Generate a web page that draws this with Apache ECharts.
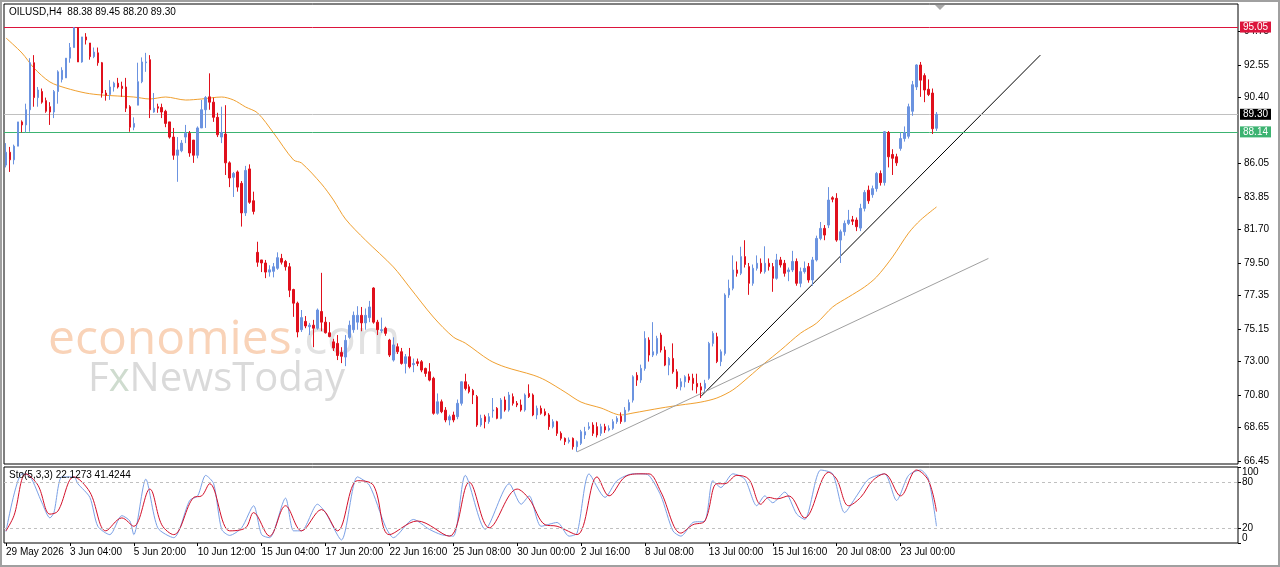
<!DOCTYPE html>
<html>
<head>
<meta charset="utf-8">
<title>OILUSD H4</title>
<script src="https://cdn.jsdelivr.net/npm/echarts@6/dist/echarts.min.js"></script>
<style>
  html, body { margin: 0; padding: 0; background: #fff; }
  #main { width: 1280px; height: 567px; }
</style>
</head>
<body>
<div id="main"></div>
<script>
// time labels, one every 16 bars
var tickLabels = ['29 May 2026', '3 Jun 04:00', '5 Jun 20:00', '10 Jun 12:00', '15 Jun 04:00',
  '17 Jun 20:00', '22 Jun 16:00', '25 Jun 08:00', '30 Jun 00:00', '2 Jul 16:00',
  '8 Jul 08:00', '13 Jul 00:00', '15 Jul 16:00', '20 Jul 08:00', '23 Jul 00:00'];

// H4 candles
var opens = [
  85.95, 86.8, 86.3, 87.2, 88.8, 88.6, 89.6, 92.7, 90.4, 90.8,
  90.2, 89.8, 89.45, 90.8, 91.6, 91.7, 93.0, 93.7, 95.0, 92.75,
  94.4, 94.0, 93.1, 93.35, 92.7, 90.7, 90.6, 91.1, 91.35, 91.15,
  91.1, 89.8, 88.45, 89.9, 91.45, 92.7, 92.9, 89.45, 89.8, 89.75,
  89.5, 88.8, 87.8, 86.6, 86.9, 87.8, 88.05, 87.6, 86.6, 88.4,
  89.6, 90.45, 90.1, 89.1, 87.8, 88.0, 86.1, 85.15, 85.5, 84.75,
  82.8, 85.7, 83.6, 80.2, 79.7, 79.5, 78.9, 78.95, 79.15, 79.8,
  79.6, 79.25, 77.75, 76.85, 75.1, 75.65, 75.3, 75.4, 75.2, 76.3,
  75.6, 74.9, 74.3, 74.2, 73.6, 73.3, 74.6, 75.1, 75.6, 76.05,
  75.55, 75.9, 77.85, 75.6, 75.05, 75.2, 74.42, 73.1, 73.98, 73.65,
  72.88, 73.32, 72.8, 72.99, 72.99, 72.55, 72.33, 71.9, 69.59, 70.35,
  69.8, 69.15, 69.48, 69.37, 70.25, 71.67, 71.34, 71.1, 70.69, 68.82,
  69.37, 69.04, 69.75, 69.92, 69.26, 70.47, 69.81, 70.69, 70.25, 70.14,
  69.81, 70.9, 70.8, 69.48, 69.92, 69.7, 69.48, 68.71, 69.04, 68.27,
  67.94, 67.72, 67.94, 67.39, 67.61, 68.16, 68.6, 68.82, 68.71, 68.27,
  68.71, 68.49, 68.6, 69.04, 69.4, 69.05, 69.8, 70.46, 72.1, 71.78,
  72.55, 74.42, 73.43, 73.54, 74.75, 73.76, 72.77, 73.21, 72.33, 71.34,
  71.67, 72.0, 71.9, 71.56, 71.34, 71.23, 71.9, 74.2, 74.64, 73.0,
  73.54, 77.39, 77.83, 79.04, 78.82, 79.92, 79.26, 78.16, 79.15, 79.48,
  78.93, 79.48, 79.26, 78.49, 79.7, 79.48, 78.93, 79.04, 79.6, 78.16,
  78.93, 79.26, 78.38, 79.7, 81.12, 81.78, 82.0, 83.8, 83.76, 81.01,
  81.56, 82.11, 82.35, 82.33, 81.8, 83.1, 84.3, 84.0, 84.4, 85.4,
  84.8, 88.1, 86.65, 86.5, 87.05, 87.7, 87.85, 89.5, 91.1, 92.55,
  91.85, 90.95, 90.7, 88.38
];
var closes = [
  86.8, 86.3, 87.2, 88.8, 88.6, 89.6, 92.7, 90.4, 90.9, 90.1,
  89.5, 89.45, 90.8, 92.1, 92.2, 93.0, 93.7, 95.0, 92.75, 94.4,
  94.2, 93.1, 93.4, 92.7, 90.7, 90.55, 91.1, 91.35, 91.1, 91.0,
  89.7, 88.45, 88.7, 91.45, 92.75, 92.75, 89.6, 89.7, 89.7, 89.45,
  88.7, 87.8, 86.6, 86.95, 87.4, 88.05, 86.75, 86.6, 88.4, 89.6,
  90.4, 90.1, 89.1, 87.95, 88.1, 86.1, 85.1, 85.4, 84.5, 82.8,
  85.6, 83.5, 82.9, 79.55, 79.5, 78.9, 79.05, 79.25, 79.85, 79.55,
  79.25, 77.7, 76.85, 74.95, 75.9, 75.35, 75.4, 75.2, 76.4, 75.6,
  74.9, 74.65, 73.9, 73.4, 73.35, 74.4, 75.4, 76.05, 76.05, 75.55,
  76.05, 76.6, 75.6, 75.1, 75.1, 74.86, 73.43, 74.1, 73.65, 72.88,
  73.32, 72.66, 72.88, 72.88, 72.44, 72.22, 71.78, 69.59, 70.35, 69.7,
  69.15, 69.37, 69.15, 70.25, 71.67, 71.23, 71.01, 70.8, 68.82, 69.26,
  69.04, 69.37, 69.81, 69.26, 70.47, 69.81, 70.8, 70.25, 70.14, 69.81,
  70.8, 70.69, 69.48, 69.92, 69.59, 69.48, 68.71, 69.04, 68.27, 67.94,
  67.72, 67.83, 67.39, 67.72, 68.38, 68.38, 68.71, 68.27, 68.16, 68.71,
  68.49, 68.6, 69.04, 69.26, 69.05, 69.8, 70.3, 72.0, 71.78, 72.55,
  74.53, 73.43, 73.65, 74.53, 73.76, 72.77, 73.21, 72.33, 71.34, 71.67,
  72.0, 71.78, 71.56, 71.34, 71.12, 71.56, 74.2, 74.86, 73.0, 73.65,
  77.39, 77.83, 79.04, 78.82, 79.92, 79.4, 78.16, 79.15, 79.48, 78.93,
  79.48, 79.26, 78.49, 79.7, 79.37, 78.82, 79.04, 79.6, 78.16, 78.93,
  79.15, 78.38, 79.7, 81.12, 81.78, 81.34, 83.65, 83.7, 81.01, 81.56,
  82.11, 82.33, 82.25, 81.89, 83.1, 84.15, 83.6, 84.4, 85.4, 84.8,
  88.15, 86.5, 86.4, 86.1, 87.7, 88.1, 89.8, 91.25, 92.55, 91.55,
  90.9, 90.6, 88.35, 89.30
];
var lows = [
  85.8, 85.5, 86.0, 87.2, 88.1, 88.1, 88.15, 89.8, 89.8, 90.0,
  89.4, 88.6, 89.05, 90.0, 91.4, 91.7, 92.7, 93.7, 92.75, 92.7,
  93.9, 92.9, 93.0, 92.5, 90.4, 90.2, 90.25, 90.8, 91.0, 90.45,
  89.45, 88.15, 88.25, 89.9, 91.35, 92.1, 89.05, 89.4, 89.4, 89.05,
  88.45, 87.7, 86.3, 84.85, 86.8, 87.4, 86.5, 86.1, 86.4, 88.4,
  88.4, 89.6, 88.8, 87.8, 87.4, 85.3, 84.5, 83.85, 84.2, 81.9,
  82.6, 83.4, 82.7, 79.25, 78.9, 78.5, 78.6, 78.55, 79.05, 79.4,
  79.0, 77.25, 75.95, 74.6, 74.95, 75.2, 74.75, 73.95, 75.1, 75.0,
  74.85, 74.6, 73.7, 73.1, 72.9, 72.7, 74.5, 74.9, 75.1, 75.0,
  75.1, 75.6, 75.5, 74.75, 74.9, 74.7, 73.3, 73.0, 73.5, 72.8,
  72.22, 72.55, 72.3, 72.7, 72.3, 72.0, 71.7, 69.5, 69.5, 69.6,
  69.0, 68.8, 69.0, 69.2, 70.1, 71.1, 70.9, 70.2, 68.7, 68.7,
  68.6, 68.9, 69.3, 69.2, 69.2, 69.7, 69.7, 70.1, 70.0, 69.7,
  69.7, 70.6, 69.4, 69.2, 69.5, 69.4, 68.5, 68.6, 68.1, 67.8,
  67.5, 67.6, 67.2, 67.06, 67.5, 67.9, 68.5, 68.1, 68.0, 68.1,
  68.3, 68.4, 68.5, 68.9, 68.9, 69.0, 69.7, 70.3, 71.4, 71.6,
  72.4, 73.0, 73.3, 73.4, 73.6, 72.7, 72.1, 72.2, 71.2, 71.1,
  71.3, 71.6, 71.1, 70.9, 70.6, 71.0, 71.8, 74.0, 72.9, 72.7,
  73.4, 77.2, 77.7, 78.6, 78.7, 79.2, 77.4, 78.0, 79.0, 78.8,
  78.8, 79.0, 77.6, 78.4, 79.2, 78.6, 78.3, 78.9, 78.0, 77.9,
  78.8, 78.2, 78.0, 79.6, 81.0, 81.0, 81.8, 83.5, 80.9, 79.5,
  81.3, 82.0, 82.0, 81.6, 81.6, 82.9, 83.4, 83.8, 84.2, 84.6,
  84.6, 85.8, 85.3, 85.9, 86.9, 87.5, 87.7, 89.2, 90.9, 90.45,
  90.1, 90.5, 88.0, 88.20
];
var highs = [
  87.4, 87.15, 87.3, 88.8, 88.9, 90.0, 93.0, 93.2, 91.1, 91.0,
  90.4, 90.1, 90.9, 92.2, 92.4, 93.0, 94.0, 95.05, 95.05, 94.4,
  94.65, 94.0, 93.7, 93.7, 92.75, 90.9, 91.55, 91.45, 91.7, 91.45,
  91.7, 89.9, 89.1, 92.7, 93.05, 93.35, 93.2, 90.7, 90.0, 90.0,
  89.6, 88.8, 88.4, 87.8, 87.6, 88.6, 88.2, 87.6, 88.5, 90.25,
  90.5, 92.0, 90.4, 89.4, 89.8, 89.9, 86.2, 85.5, 85.6, 84.9,
  85.9, 86.0, 84.2, 80.9, 79.7, 79.7, 79.35, 79.5, 80.2, 80.1,
  79.7, 79.5, 77.8, 76.95, 76.4, 76.0, 75.55, 75.75, 76.5, 78.85,
  75.95, 75.6, 74.5, 74.75, 73.95, 74.75, 75.7, 76.3, 76.65, 76.6,
  76.5, 77.0, 77.9, 75.75, 75.9, 75.3, 74.5, 74.6, 74.2, 73.9,
  73.5, 73.9, 73.2, 73.2, 73.1, 72.6, 72.9, 72.0, 70.9, 70.5,
  70.0, 69.5, 69.7, 70.5, 71.7, 72.2, 71.5, 71.2, 70.8, 69.5,
  69.5, 69.6, 70.6, 70.0, 70.6, 70.7, 71.0, 70.9, 70.4, 70.5,
  70.9, 71.5, 70.9, 70.1, 70.1, 69.9, 69.6, 69.2, 69.1, 68.4,
  68.0, 68.0, 68.0, 67.8, 68.5, 68.7, 69.0, 69.0, 69.0, 68.9,
  68.9, 68.8, 69.2, 69.4, 69.65, 70.0, 70.5, 72.1, 72.3, 72.8,
  75.0, 74.6, 75.6, 74.7, 74.9, 74.0, 73.3, 74.2, 72.5, 71.9,
  72.1, 72.2, 72.2, 72.2, 71.6, 71.8, 74.3, 75.0, 74.9, 73.8,
  77.5, 78.4, 80.0, 79.6, 80.57, 81.0, 79.5, 79.4, 80.0, 79.8,
  80.6, 79.8, 79.5, 80.1, 79.9, 79.7, 79.2, 80.3, 79.8, 79.2,
  79.6, 79.5, 79.9, 81.3, 82.2, 82.0, 84.5, 83.9, 84.1, 81.7,
  82.3, 83.0, 82.6, 82.5, 83.4, 84.3, 84.6, 84.6, 85.5, 85.6,
  88.2, 88.2, 87.0, 86.7, 88.1, 88.5, 90.0, 91.5, 92.6, 92.75,
  92.0, 91.6, 91.0, 89.45
];

// moving average: [bar, price]
var maLine = [[0, 94.33], [4, 93.34], [7, 92.35], [11, 91.43], [15, 91.03], [20, 90.70], [24, 90.57],
  [32, 90.44], [36, 90.31], [40, 90.44], [45, 90.24], [49, 90.31], [54, 90.44], [57, 90.24],
  [60, 89.78], [63, 89.39], [67, 88.07], [72, 86.29], [74, 86.09], [79, 84.71], [82, 83.65],
  [85, 82.4], [90, 81.01], [97, 79.24], [101, 77.92], [107, 75.94], [112, 74.62], [115, 74.22],
  [121, 73.10], [125, 72.64], [132, 72.11], [135, 71.78], [140, 70.99], [144, 70.33], [149, 69.94],
  [154, 69.48], [157, 69.61], [164, 69.94], [169, 70.14], [174, 70.33], [178, 70.60], [182, 71.13],
  [186, 71.99], [190, 72.90], [194, 73.76], [199, 74.88], [203, 75.54], [207, 76.60], [211, 77.26],
  [215, 77.92], [218, 78.58], [222, 79.90], [226, 81.47], [229, 82.33], [233, 83.19]];

// stochastic %K (blue) and %D (red): [bar, value]
var stochK = [[0, 15], [4, 91], [6, 88], [9, 53], [11, 33], [12, 40], [14, 87], [17, 87], [18, 78],
  [21, 60], [23, 22], [26, 11], [29, 36], [31, 29], [32, 11], [35, 84], [38, 20], [42, 7], [46, 56],
  [48, 62], [50, 89], [52, 78], [54, 18], [56, 10], [59, 20], [62, 49], [64, 11], [66, 7], [70, 59],
  [72, 16], [74, 16], [78, 51], [80, 40], [84, 4], [88, 87], [91, 76], [95, 22], [97, 7], [102, 31],
  [106, 18], [109, 11], [112, 9], [115, 89], [120, 18], [126, 78], [129, 51], [131, 62], [134, 22],
  [138, 27], [141, 9], [143, 13], [146, 91], [150, 60], [153, 82], [157, 91], [159, 91], [161, 89],
  [164, 62], [167, 16], [169, 9], [172, 27], [175, 29], [177, 82], [179, 73], [182, 91], [185, 84],
  [188, 49], [190, 62], [192, 53], [195, 67], [198, 38], [200, 31], [204, 96], [207, 91], [210, 40],
  [213, 62], [216, 84], [220, 91], [223, 56], [226, 89], [229, 96], [231, 84], [233, 22.1273]];
var stochD = [[0, 16], [2, 36], [5, 91], [8, 76], [11, 38], [13, 42], [17, 87], [21, 67], [25, 16],
  [29, 33], [32, 22], [36, 71], [39, 24], [42, 11], [47, 60], [49, 62], [51, 78], [56, 16], [60, 20],
  [62, 40], [66, 9], [70, 49], [74, 16], [79, 44], [83, 16], [88, 82], [92, 76], [96, 11], [103, 29],
  [111, 9], [116, 80], [121, 20], [128, 71], [131, 58], [135, 24], [138, 22], [143, 11], [148, 87],
  [151, 62], [155, 87], [159, 91], [161, 91], [164, 67], [169, 13], [172, 24], [175, 29], [178, 78],
  [180, 78], [183, 89], [186, 84], [189, 51], [191, 60], [193, 58], [196, 62], [200, 33], [206, 93],
  [208, 84], [211, 49], [214, 60], [217, 82], [220, 91], [224, 62], [228, 96], [231, 82], [233, 41.4244]];

var priceTicks = [66.45, 68.65, 70.80, 73.00, 75.15, 77.35, 79.50, 81.70, 83.85, 86.05, 90.40, 92.55, 94.75];
var stochTicks = [0, 20, 80, 100];
var stochLevels = [20, 80];
// resistance, current price, support
var levels = [95.05, 89.30, 88.14];
var levelColors = ['#dc143c', '#c0c0c0', '#3cb371'];
var levelBoxes = ['#dc143c', '#000000', '#3cb371'];
// trend lines: [bar, price]
var blackTrend = [[174, 70.7], [259, 93.2]];
var greyTrend = [[143, 67.05], [246, 79.8]];

var slotCount = 309; // bar slots across the pane (empty space on the right)
var cats = [];
for (var i = 0; i < slotCount; i++) cats.push('b' + i);

var candles = opens.map(function (o, i) {
  return [o, closes[i], lows[i], highs[i]];
});
var last = opens.length - 1;
var headText = 'OILUSD,H4  ' + [opens[last], highs[last], lows[last], closes[last]].map(function (v) { return v.toFixed(2); }).join(' ');
var stoText = 'Sto(5,3,3) ' + stochK[stochK.length - 1][1].toFixed(4) + ' ' + stochD[stochD.length - 1][1].toFixed(4);

// only bars that carry a time label get a label / tick
function labelled(idx) {
  return idx % 16 === 0 && idx / 16 < tickLabels.length;
}

var FONT = 'Liberation Sans, Arial, sans-serif';

var chart = echarts.init(document.getElementById('main'));
chart.setOption({
  animation: false,
  backgroundColor: '#fff',
  grid: [
    { left: 4, right: 42, top: 4, height: 460, show: true, borderColor: '#000', borderWidth: 1 },
    { left: 4, right: 42, top: 467, height: 76, show: true, borderColor: '#000', borderWidth: 1 }
  ],
  xAxis: [
    { type: 'category', gridIndex: 0, data: cats, boundaryGap: true,
      axisLine: { show: false }, axisTick: { show: false }, axisLabel: { show: false }, splitLine: { show: false } },
    { type: 'category', gridIndex: 1, data: cats, boundaryGap: true,
      axisLine: { show: false },
      axisTick: { show: true, interval: labelled, alignWithLabel: true, length: 3, lineStyle: { color: '#000' } },
      axisLabel: {
        interval: labelled, align: 'left', margin: 4, color: '#000', fontSize: 10, fontFamily: FONT,
        formatter: function (v, idx) { return labelled(idx) ? tickLabels[idx / 16] : ''; }
      },
      splitLine: { show: false } }
  ],
  yAxis: [
    { type: 'value', gridIndex: 0, position: 'right', min: 66.25, max: 96.57, scale: true, z: 0,
      axisLine: { show: false }, splitLine: { show: false },
      axisTick: { show: true, length: 3, customValues: priceTicks, lineStyle: { color: '#000' } },
      axisLabel: { customValues: priceTicks, margin: 6, color: '#000', fontSize: 10, fontFamily: FONT,
        formatter: function (v) { return v.toFixed(2); } } },
    { type: 'value', gridIndex: 1, position: 'right', min: 0, max: 100, z: 0,
      axisLine: { show: false }, splitLine: { show: false },
      axisTick: { show: true, length: 3, customValues: stochTicks, lineStyle: { color: '#000' } },
      axisLabel: { customValues: stochTicks, margin: 4, color: '#000', fontSize: 10, fontFamily: FONT,
        verticalAlignMinLabel: 'bottom', verticalAlignMaxLabel: 'top',
        formatter: function (v) { return String(v); } } }
  ],
  graphic: [
    { type: 'text', left: 48, top: 316, z: 0, silent: true,
      style: { text: '{a|economies}{b|.com}', rich: {
        a: { font: '48px Open Sans', fill: '#f9d3b8' },
        b: { font: '48px Open Sans', fill: '#e2e2e2' } } } },
    { type: 'text', left: 88, top: 360, z: 0, silent: true,
      style: { text: 'F{x|x}NewsToday', font: '40px Open Sans', fill: '#dadada', rich: {
        x: { font: '40px Open Sans', fill: '#cfdccf' } } } },
    { type: 'text', left: 9, top: 7, z: 10,
      style: { text: headText, font: '10px ' + FONT, fill: '#000' } },
    { type: 'text', left: 9, top: 470, z: 10,
      style: { text: stoText, font: '10px ' + FONT, fill: '#000' } },
    { type: 'polygon', z: 10, shape: { points: [[935, 5], [945, 5], [940, 10]] }, style: { fill: '#a8a8a8' } },
    { type: 'rect', z: 20, silent: true, shape: { x: 1, y: 1, width: 1278, height: 565 },
      style: { fill: 'none', stroke: '#a0a0a0', lineWidth: 2 } }
  ],
  series: [
    {
      name: 'OILUSD', type: 'candlestick', xAxisIndex: 0, yAxisIndex: 0, z: 5,
      data: candles, barWidth: 2,
      itemStyle: { color: '#6b93e0', color0: '#e0101c', borderColor: '#6b93e0', borderColor0: '#e0101c', borderWidth: 1 },
      markLine: {
        silent: true, symbol: 'none', precision: 2,
        data: levels.map(function (v, i) {
          return {
            yAxis: v,
            lineStyle: { color: levelColors[i], type: 'solid', width: 1 },
            label: { show: true, position: 'end', distance: 2, formatter: v.toFixed(2),
              color: '#fff', backgroundColor: levelBoxes[i], padding: [1, 3, 0, 3],
              fontSize: 10, fontFamily: FONT }
          };
        })
      }
    },
    { name: 'MA', type: 'line', xAxisIndex: 0, yAxisIndex: 0, data: maLine, smooth: 0.3,
      showSymbol: false, lineStyle: { color: '#f0a030', width: 1 } },
    { name: 'trend', type: 'line', xAxisIndex: 0, yAxisIndex: 0, data: blackTrend,
      showSymbol: false, lineStyle: { color: '#000', width: 1 } },
    { name: 'trend2', type: 'line', xAxisIndex: 0, yAxisIndex: 0, data: greyTrend,
      showSymbol: false, lineStyle: { color: '#a0a0a0', width: 1 } },
    { name: '%K', type: 'line', xAxisIndex: 1, yAxisIndex: 1, data: stochK, smooth: 0.25,
      showSymbol: false, lineStyle: { color: '#7aa0e6', width: 1 },
      markLine: { silent: true, symbol: 'none', label: { show: false },
        lineStyle: { color: '#c0c0c0', type: [3, 3], width: 1 },
        data: stochLevels.map(function (v) { return { yAxis: v }; }) } },
    { name: '%D', type: 'line', xAxisIndex: 1, yAxisIndex: 1, data: stochD, smooth: 0.35,
      showSymbol: false, lineStyle: { color: '#d3102a', width: 1 } }
  ]
});
</script>
</body>
</html>
